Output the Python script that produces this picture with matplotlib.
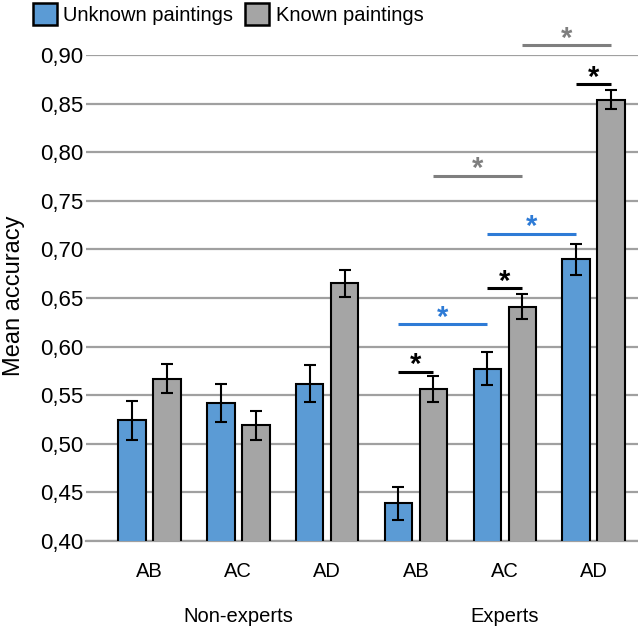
import matplotlib
matplotlib.use("Agg")
import matplotlib.pyplot as plt
import numpy as np
from matplotlib.patches import Patch

plt.rcParams['font.family'] = ['Liberation Sans', 'DejaVu Sans']

conditions = ["AB", "AC", "AD", "AB", "AC", "AD"]
groups = ["Non-experts", "Experts"]
unknown = [0.524, 0.542, 0.562, 0.439, 0.577, 0.690]
unknown_err = [0.020, 0.0195, 0.0195, 0.017, 0.017, 0.016]
known = [0.567, 0.519, 0.665, 0.556, 0.641, 0.854]
known_err = [0.015, 0.015, 0.014, 0.0135, 0.013, 0.010]
yticks = [0.40, 0.45, 0.50, 0.55, 0.60, 0.65, 0.70, 0.75, 0.80, 0.85, 0.90]

# significance lines: (condition, series) -> (condition, series), height, colour
sig = [
    ((3, -1), (3, 1), 0.574, "black"),
    ((3, -1), (4, -1), 0.623, "#2E7BD6"),
    ((4, -1), (4, 1), 0.660, "black"),
    ((4, -1), (5, -1), 0.716, "#2E7BD6"),
    ((3, 1), (4, 1), 0.776, "#7F7F7F"),
    ((5, -1), (5, 1), 0.870, "black"),
    ((4, 1), (5, 1), 0.910, "#7F7F7F"),
]

fig = plt.figure(figsize=(6.38, 6.29), dpi=100)
ax = fig.add_axes([0.1348, 0.1399, 0.8652, 0.7727])

x = np.arange(len(conditions))
off = 0.197
w = 0.31
blue = "#5B9BD5"
gray = "#A5A5A5"
ax.bar(x - off, unknown, w, color=blue, edgecolor="black", linewidth=1.5, zorder=3)
ax.bar(x + off, known, w, color=gray, edgecolor="black", linewidth=1.5, zorder=3)
ax.errorbar(x - off, unknown, yerr=unknown_err, fmt="none", ecolor="black", elinewidth=1.5, capsize=4, capthick=1.5, zorder=4)
ax.errorbar(x + off, known, yerr=known_err, fmt="none", ecolor="black", elinewidth=1.5, capsize=4, capthick=1.5, zorder=4)

ax.set_ylim(0.40, 0.90)
ax.set_xlim(-0.715, 5.5)
ax.set_yticks(yticks)
ax.set_yticklabels([f"{v:.2f}".replace(".", ",") for v in yticks], fontsize=16)
ax.set_xticks(x)
ax.set_xticklabels(conditions, fontsize=14.5)
ax.tick_params(axis="y", length=0, pad=2)
ax.tick_params(axis="x", length=0, pad=15)
ax.grid(axis="y", color="#A0A0A0", linewidth=1.6, zorder=0)
for s in ["top", "right", "left"]:
    ax.spines[s].set_visible(False)
ax.spines["bottom"].set_color("#A0A0A0")
ax.spines["bottom"].set_linewidth(1.6)
fig.text(14 / 638, 1 - 296 / 629, "Mean accuracy", rotation=90, fontsize=17, ha="center", va="center")

for (a, b, y, c) in sig:
    xa = a[0] + a[1] * off
    xb = b[0] + b[1] * off
    ax.plot([xa, xb], [y, y], color=c, linewidth=2.2, clip_on=False, zorder=5, solid_capstyle="butt")
    ax.text((xa + xb) / 2, y - 0.0015, "*", color=c, fontsize=21, fontweight="bold",
            ha="center", va="baseline", clip_on=False)

# group labels
ax.text(1, -0.156, groups[0], transform=ax.get_xaxis_transform(), ha="center", va="center", fontsize=14.5)
ax.text(4, -0.156, groups[1], transform=ax.get_xaxis_transform(), ha="center", va="center", fontsize=14.5)

handles = [Patch(facecolor=blue, edgecolor="black", linewidth=1.8, label="Unknown paintings"),
           Patch(facecolor=gray, edgecolor="black", linewidth=1.8, label="Known paintings")]
fig.legend(handles=handles, loc="upper left", bbox_to_anchor=(33 / 638, 1 - 3 / 629), ncol=2, frameon=False,
           fontsize=14.5, borderpad=0, borderaxespad=0, handlelength=1.2, handleheight=1.3,
           handletextpad=0.3, columnspacing=0.6)

fig.savefig("out.png", dpi=100)
